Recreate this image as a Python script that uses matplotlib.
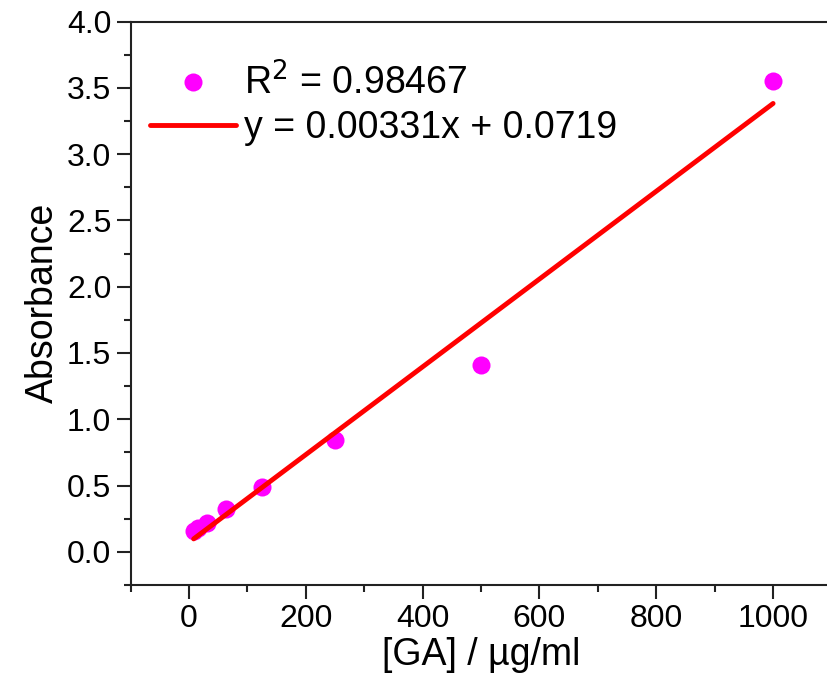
import matplotlib
matplotlib.use("Agg")
import matplotlib.pyplot as plt
import numpy as np
from matplotlib.ticker import MultipleLocator
from matplotlib.lines import Line2D

plt.rcParams['font.family'] = ['Liberation Sans', 'DejaVu Sans']

conc = [7.8, 15.6, 31.25, 62.5, 125, 250, 500, 1000]
absorbance = [0.16, 0.18, 0.22, 0.32, 0.49, 0.84, 1.41, 3.55]
slope = 0.00331
intercept = 0.0719
r2_label = "R$^2$ = 0.98467"
fit_label = "y = 0.00331x + 0.0719"

fig = plt.figure(figsize=(8.28, 6.84), dpi=100)
W, H = 828, 684
left, right, bottom, top = 130.7, 831.5, 585, 21.5
ax = fig.add_axes([left / W, 1 - bottom / H, (right - left) / W, (bottom - top) / H])

ax.scatter(conc, absorbance, s=13**2, color='#ff00ff', zorder=3, linewidths=0)
xf = np.array([conc[0], conc[-1]])
ax.plot(xf, slope * xf + intercept, color='#ff0000', lw=3.5, solid_capstyle='round', zorder=4)

ax.set_xlim(-100, 1100)
ax.set_ylim(-0.25, 4.0)
ax.xaxis.set_major_locator(MultipleLocator(200))
ax.xaxis.set_minor_locator(MultipleLocator(100))
ax.yaxis.set_major_locator(MultipleLocator(0.5))
ax.yaxis.set_minor_locator(MultipleLocator(0.25))
ax.yaxis.set_major_formatter(plt.FuncFormatter(lambda v, p: f"{v:.1f}"))

ax.spines['right'].set_visible(False)
for s in ['left', 'bottom', 'top']:
    ax.spines[s].set_linewidth(1.5)
    ax.spines[s].set_color('#222222')
ax.tick_params(which='major', direction='out', length=10, width=1.5, labelsize=23, pad=4, colors='#222222', labelcolor='black')
ax.tick_params(which='minor', direction='out', length=5, width=1.5, colors='#222222')

ax.set_xlabel("[GA] / µg/ml", fontsize=27, labelpad=2)
ax.set_ylabel("Absorbance", fontsize=27, labelpad=4)

handles = [Line2D([], [], ls='none', marker='o', ms=13, mfc='#ff00ff', mec='none'),
           Line2D([], [], color='#ff0000', lw=3.5, solid_capstyle='round')]
ax.legend(handles, [r2_label, fit_label], loc='upper left', bbox_to_anchor=(0.0, 0.96),
          frameon=False, fontsize=27, handlelength=2.3, handletextpad=0.2, labelspacing=0.2,
          borderaxespad=0.12)

fig.savefig("out.png", dpi=100, facecolor='white')
